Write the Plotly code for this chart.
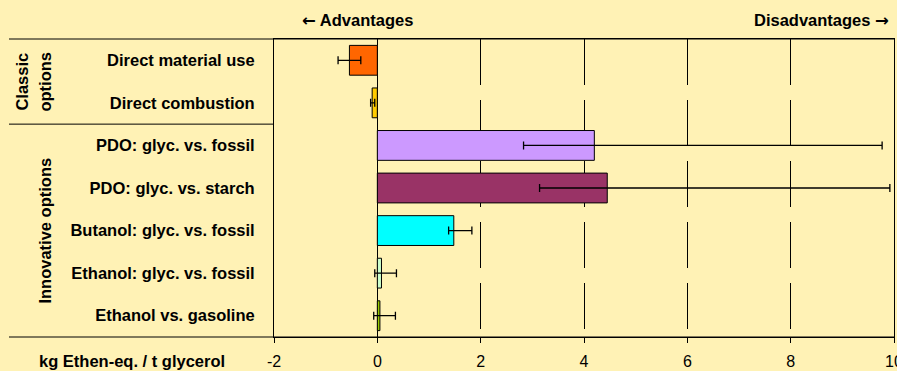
import plotly.graph_objects as go

# Options compared (top to bottom)
categories = [
    "Direct material use",
    "Direct combustion",
    "PDO: glyc. vs. fossil",
    "PDO: glyc. vs. starch",
    "Butanol: glyc. vs. fossil",
    "Ethanol: glyc. vs. fossil",
    "Ethanol vs. gasoline",
]
# Central estimate (kg ethene-eq. per t glycerol)
values = [-0.54, -0.10, 4.20, 4.45, 1.48, 0.08, 0.05]
# Range of results (low / high)
range_low = [-0.76, -0.13, 2.83, 3.14, 1.38, -0.05, -0.07]
range_high = [-0.32, -0.05, 9.77, 9.92, 1.83, 0.37, 0.35]
bar_colors = ["#FF6600", "#FFCC00", "#CC99FF", "#993366", "#00FFFF", "#CCFFCC", "#99CC00"]
x_ticks = [-2, 0, 2, 4, 6, 8, 10]

BG = "#FFF2B5"
FONT = "Liberation Sans, Arial, sans-serif"
ARROW_FONT = "DejaVu Sans"

err_plus = [h - v for h, v in zip(range_high, values)]
err_minus = [v - l for l, v in zip(range_low, values)]

fig = go.Figure(
    go.Bar(
        x=values,
        y=categories,
        orientation="h",
        width=0.7,
        marker=dict(color=bar_colors, line=dict(color="black", width=1)),
        error_x=dict(
            type="data",
            symmetric=False,
            array=err_plus,
            arrayminus=err_minus,
            color="black",
            thickness=1.3,
            width=4,
        ),
        showlegend=False,
    )
)

L, R, T, B = 274, 3, 39, 34
W, H = 897, 371
pw, ph = W - L - R, H - T - B


def px(x):
    return (x - L) / pw


def py(y):
    return (H - B - y) / ph


shapes = [
    # table rules in the label column
    dict(type="line", xref="paper", yref="paper", x0=px(9), x1=1, y0=1, y1=1,
         line=dict(color="black", width=1)),
    dict(type="line", xref="paper", yref="y", x0=px(9), x1=0, y0=1.5, y1=1.5,
         line=dict(color="black", width=1)),
    dict(type="line", xref="paper", yref="paper", x0=px(9), x1=1, y0=0, y1=0,
         line=dict(color="black", width=1)),
]

bold = dict(family=FONT, size=16.5, color="black", weight="bold")
arrow_l = f"<span style='font-family:{ARROW_FONT}'>←</span> Advantages"
arrow_r = f"Disadvantages <span style='font-family:{ARROW_FONT}'>→</span>"
annotations = [
    dict(text=arrow_l, x=px(357), y=py(21), xref="paper", yref="paper",
         showarrow=False, font=bold, xanchor="center", yanchor="middle"),
    dict(text=arrow_r, x=px(821), y=py(21), xref="paper", yref="paper",
         showarrow=False, font=bold, xanchor="center", yanchor="middle"),
    dict(text="kg Ethen-eq. / t glycerol", x=px(132), y=py(361), xref="paper", yref="paper",
         showarrow=False, font=bold, xanchor="center", yanchor="middle"),
    dict(text="Classic", x=px(22), y=0.5, xref="paper", yref="y", textangle=-90,
         showarrow=False, font=bold, xanchor="center", yanchor="middle"),
    dict(text="options", x=px(45), y=0.5, xref="paper", yref="y", textangle=-90,
         showarrow=False, font=bold, xanchor="center", yanchor="middle"),
    dict(text="Innovative options", x=px(45), y=4.0, xref="paper", yref="y", textangle=-90,
         showarrow=False, font=bold, xanchor="center", yanchor="middle"),
]

fig.update_layout(
    width=W,
    height=H,
    margin=dict(l=L, r=R, t=T, b=B, pad=0, autoexpand=False),
    paper_bgcolor=BG,
    plot_bgcolor=BG,
    font=dict(family=FONT, size=16, color="black"),
    bargap=0.3,
    shapes=shapes,
    annotations=annotations,
    xaxis=dict(
        range=[-2, 10],
        tickvals=x_ticks,
        ticktext=[str(t) for t in x_ticks],
        ticks="outside",
        ticklen=5,
        tickcolor="black",
        ticklabelstandoff=5,
        ticklabeloverflow="allow",
        automargin=False,
        tickfont=dict(family=FONT, size=16, color="black"),
        showgrid=True,
        gridcolor="black",
        gridwidth=1,
        griddash="46px,15px",
        zeroline=True,
        zerolinecolor="black",
        zerolinewidth=1,
        showline=True,
        linecolor="black",
        linewidth=1,
        mirror=True,
        fixedrange=True,
    ),
    yaxis=dict(
        type="category",
        categoryorder="array",
        categoryarray=categories,
        range=[6.5, -0.5],
        ticks="outside",
        ticklen=15,
        tickcolor="rgba(0,0,0,0)",
        automargin=False,
        tickfont=dict(family=FONT, size=16.5, color="black", weight="bold"),
        showgrid=False,
        showline=True,
        linecolor="black",
        linewidth=1,
        mirror=True,
        fixedrange=True,
    ),
)

fig.write_html("out.html")
